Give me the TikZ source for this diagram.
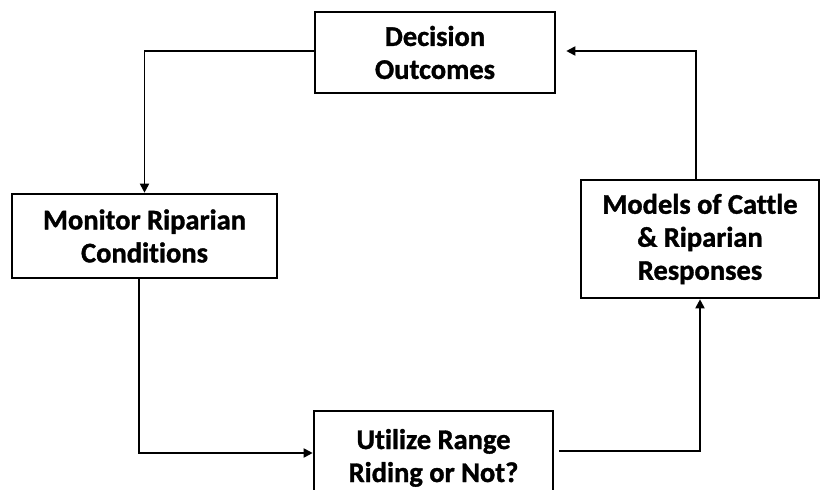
\documentclass[tikz,border=0pt]{standalone}
\usepackage{fontspec}
\setmainfont[Ligatures=NoCommon,BoldFeatures={FakeBold=1.2}]{Carlito}
\usetikzlibrary{arrows.meta}
\begin{document}
\begin{tikzpicture}[x=1pt,y=-1pt,
  box/.style={draw=black,line width=2.6pt,fill=white,align=center,inner sep=0pt,
    font=\fontsize{28.5}{33}\selectfont\bfseries},
  conn/.style={draw=black,line width=1.8pt,-{Triangle[length=9pt,width=9pt]}}]
\useasboundingbox (0,0) rectangle (828,490);
\clip (0,0) rectangle (828,490);
\fill[white] (0,0) rectangle (828,490);
\node[box,minimum width=240pt,minimum height=81pt] (dec) at (435,52.5) {Decision\\Outcomes};
\node[box,minimum width=265pt,minimum height=84pt] (mon) at (144.5,236) {Monitor Riparian\\Conditions};
\node[box,minimum width=238pt,minimum height=118pt] (mod) at (700,239) {Models of Cattle\\\& Riparian\\Responses};
\node[box,minimum width=239pt,minimum height=89pt,text depth=0pt] (utl) at (433.5,455.5) {Utilize Range\\Riding or Not?};
\coordinate (decin) at ([xshift=10pt,yshift=1.5pt]dec.east);
\draw[conn] ([yshift=1.5pt]dec.west) -| (mon.north);
\draw[conn] ([xshift=-5.5pt]mon.south) |- ([yshift=2.5pt]utl.west);
\draw[conn] ([xshift=5pt,yshift=4.5pt]utl.east) -| (mod.south);
\draw[conn] ([xshift=-4pt]mod.north) |- (decin);
\end{tikzpicture}
\end{document}
